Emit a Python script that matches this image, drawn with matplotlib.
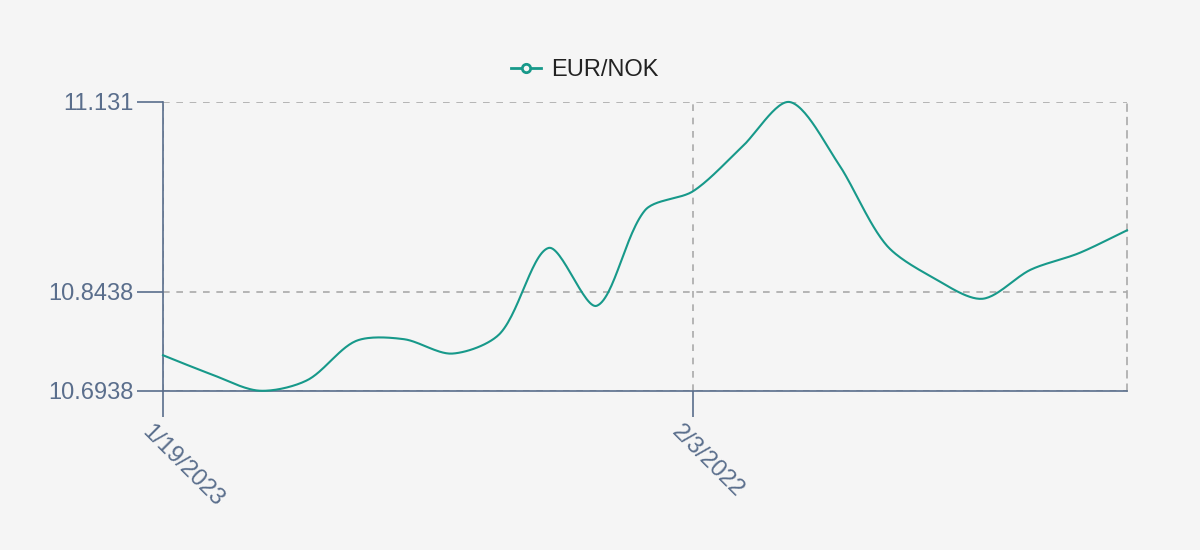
import numpy as np
import matplotlib
matplotlib.use("Agg")
import matplotlib.pyplot as plt
import matplotlib.transforms as mtransforms
from matplotlib.lines import Line2D

# EUR/NOK values (21 daily points)
values = [10.7475, 10.7187, 10.6938, 10.7100, 10.7690, 10.7718, 10.7500,
          10.7810, 10.9100, 10.8224, 10.9670, 10.9960, 11.0620, 11.1310,
          11.0390, 10.9150, 10.8640, 10.8330, 10.8770, 10.9020, 10.9367]
tick_idx = [0, 11]
tick_labels = ["1/19/2023", "2/3/2022"]
y_ticks = [10.6938, 10.8438, 11.131]
series_name = "EUR/NOK"

bg = "#f5f5f5"
line_color = "#17998a"
axis_color = "#5a6e8c"
grid_color = "#aaaaaa"

plt.rcParams['font.family'] = ['Liberation Sans', 'DejaVu Sans']

fig = plt.figure(figsize=(12, 5.5), dpi=100, facecolor=bg)
ax = fig.add_axes([163 / 1200, 1 - 390.7 / 550, (1127 - 163) / 1200, (390.7 - 102) / 550])
ax.set_facecolor(bg)

x = np.arange(len(values))
ax.set_xlim(0, len(values) - 1)
ax.set_ylim(min(y_ticks), max(y_ticks))


def smooth_line(ax, xs, ys, smooth=0.3, steps=30):
    # bezier smoothing in pixel space, handles scaled by neighbour distances
    pts = ax.transData.transform(np.column_stack([xs, ys]))
    n = len(pts)
    out = [pts[0]]
    cp0 = pts[0]
    for i in range(1, n):
        p = pts[i]
        prev = pts[i - 1]
        nxt = pts[i + 1] if i + 1 < n else p
        v = nxt - prev
        lp = np.hypot(*(p - prev))
        ln = np.hypot(*(nxt - p))
        r = ln / (ln + lp) if (ln + lp) > 0 else 0.5
        cp1 = p - v * smooth * (1 - r)
        t = np.linspace(0, 1, steps)[1:, None]
        seg = ((1 - t) ** 3) * prev + 3 * ((1 - t) ** 2) * t * cp0 \
            + 3 * (1 - t) * t ** 2 * cp1 + t ** 3 * p
        out.extend(seg)
        cp0 = p + v * smooth * r
    out = np.array(out)
    return ax.transData.inverted().transform(out)


curve = smooth_line(ax, x, values)
ax.plot(curve[:, 0], curve[:, 1], color=line_color, lw=1.5, zorder=3, clip_on=False)

# axes styling
ax.spines["top"].set_visible(False)
ax.spines["right"].set_color(grid_color)
ax.spines["right"].set_linestyle((0, (4, 4)))
ax.spines["right"].set_linewidth(1.2)
for s in ["left", "bottom"]:
    ax.spines[s].set_color(axis_color)
    ax.spines[s].set_linewidth(1.2)

ax.set_yticks(y_ticks)
ax.set_yticklabels([f"{v:g}" for v in y_ticks])
ax.set_xticks(tick_idx)
ax.set_xticklabels(tick_labels)
ax.tick_params(axis="both", colors=axis_color, labelcolor=axis_color,
               labelsize=17, length=18.5, width=1.2)
ax.tick_params(axis="y", pad=3)
ax.tick_params(axis="x", pad=3)
shift = mtransforms.ScaledTranslation(-10 / 100, 0, fig.dpi_scale_trans)
for lbl in ax.get_xticklabels():
    lbl.set_rotation(-45)
    lbl.set_ha("left")
    lbl.set_va("top")
    lbl.set_rotation_mode("anchor")
    lbl.set_transform(lbl.get_transform() + shift)
ax.grid(True, linestyle=(0, (4, 4)), color=grid_color, lw=1.2)
ax.set_axisbelow(True)

handle = Line2D([0], [0], color=line_color, lw=2, marker="o", markersize=6,
                markerfacecolor=bg, markeredgewidth=2)
leg = fig.legend([handle], [series_name], loc="center", bbox_to_anchor=(0.487, 0.873),
                 frameon=False, fontsize=17, handlelength=1.3, handletextpad=0.4)
for t in leg.get_texts():
    t.set_color("#222222")

fig.savefig("out.png", dpi=100, facecolor=bg)
